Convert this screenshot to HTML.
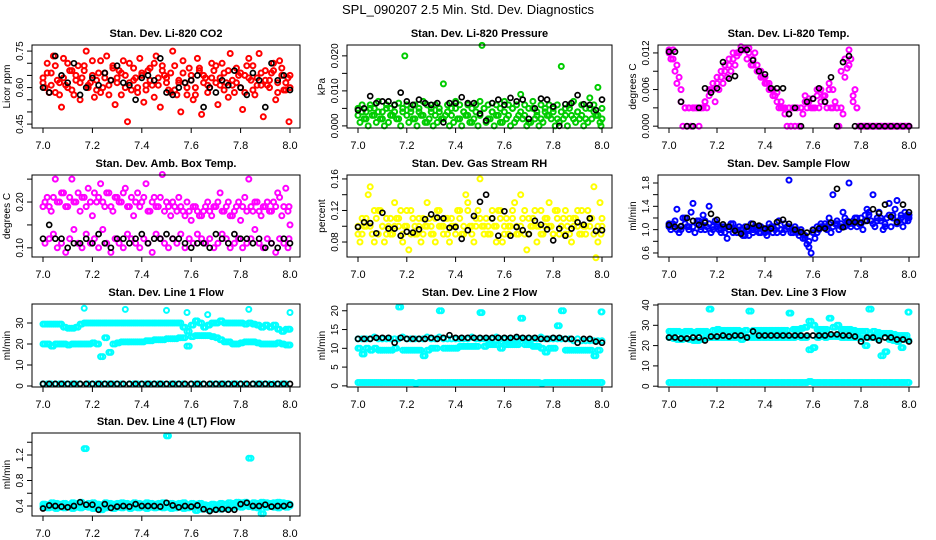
<!DOCTYPE html>
<html><head><meta charset="utf-8"><style>
html,body{margin:0;padding:0;background:#fff;width:936px;height:540px;overflow:hidden}
svg{display:block;font-family:"Liberation Sans",Arial,sans-serif}
</style></head><body>
<svg id="chart" width="936" height="540" viewBox="0 0 936 540" xmlns="http://www.w3.org/2000/svg">
<text x="468" y="14" text-anchor="middle" font-size="13">SPL_090207  2.5 Min. Std. Dev. Diagnostics</text>
</svg>
<script>
const times61=[7.000,7.017,7.033,7.050,7.067,7.083,7.100,7.117,7.133,7.150,7.167,7.183,7.200,7.217,7.233,7.250,7.267,7.283,7.300,7.317,7.333,7.350,7.367,7.383,7.400,7.417,7.433,7.450,7.467,7.483,7.500,7.517,7.533,7.550,7.567,7.583,7.600,7.617,7.633,7.650,7.667,7.683,7.700,7.717,7.733,7.750,7.767,7.783,7.800,7.817,7.833,7.850,7.867,7.883,7.900,7.917,7.933,7.950,7.967,7.983,8.000];
const times41=[7.000,7.025,7.050,7.075,7.100,7.125,7.150,7.175,7.200,7.225,7.250,7.275,7.300,7.325,7.350,7.375,7.400,7.425,7.450,7.475,7.500,7.525,7.550,7.575,7.600,7.625,7.650,7.675,7.700,7.725,7.750,7.775,7.800,7.825,7.850,7.875,7.900,7.925,7.950,7.975,8.000];
const timesOff=[7.008,7.025,7.042,7.058,7.075,7.092,7.108,7.125,7.142,7.158,7.175,7.192,7.208,7.225,7.242,7.258,7.275,7.292,7.308,7.325,7.342,7.358,7.375,7.392,7.408,7.425,7.442,7.458,7.475,7.492,7.508,7.525,7.542,7.558,7.575,7.592,7.608,7.625,7.642,7.658,7.675,7.692,7.708,7.725,7.742,7.758,7.775,7.792,7.808,7.825,7.842,7.858,7.875,7.892,7.908,7.925,7.942,7.958,7.975,7.992,7.996];
const xTicks=[7.0,7.2,7.4,7.6,7.8,8.0];
const xTickLabels=["7.0","7.2","7.4","7.6","7.8","8.0"];

const co2Red1=[.64,.70,.66,.58,.62,.72,.60,.67,.63,.55,.69,.61,.65,.59,.71,.64,.57,.68,.62,.66,.60,.70,.63,.58,.65,.61,.68,.56,.64,.69,.62,.66,.59,.63,.71,.57,.65,.60,.67,.62,.58,.64,.69,.61,.66,.56,.63,.68,.60,.65,.72,.59,.64,.61,.67,.63,.70,.58,.65,.62,.60];
const co2Red2=[.60,.58,.73,.63,.52,.61,.67,.57,.69,.64,.75,.62,.56,.66,.60,.73,.63,.53,.67,.71,.46,.59,.64,.72,.54,.67,.61,.73,.52,.65,.59,.75,.57,.50,.62,.68,.55,.72,.49,.64,.60,.67,.53,.70,.62,.74,.58,.65,.51,.69,.63,.57,.74,.48,.61,.66,.55,.71,.59,.64,.46];
const co2Red3=[.62,.66,.61,.69,.57,.64,.70,.59,.65,.62,.67,.60,.71,.63,.58,.66,.61,.69,.64,.57,.65,.62,.68,.60,.66,.59,.63,.70,.61,.67,.64,.58,.69,.62,.66,.60,.63,.57,.68,.65,.61,.70,.62,.64,.59,.67,.61,.62,.66,.58,.64,.69,.61,.66,.63,.60,.67,.62,.68,.59,.65];
const co2Black=[.60,.58,.73,.65,.62,.70,.57,.60,.64,.61,.66,.63,.69,.62,.61,.55,.64,.65,.63,.72,.58,.57,.60,.62,.63,.65,.52,.60,.58,.63,.61,.67,.60,.57,.66,.63,.52,.70,.63,.65,.59];

const presGreen1=[.005,.006,.004,.006,.005,.007,.004,.006,.005,.006,.0065,.005,.006,.004,.006,.005,.007,.006,.005,.006,.004,.012,.006,.005,.007,.006,.004,.006,.005,.006,.007,.005,.006,.004,.006,.005,.007,.006,.005,.006,.009,.006,.005,.007,.004,.006,.005,.006,.004,.006,.017,.005,.006,.007,.004,.006,.005,.008,.006,.011,.005];
const presGreen2=[.001,.002,.000,.003,.001,.002,.000,.001,.003,.002,.000,.020,.001,.002,.000,.003,.001,.002,.000,.001,.002,.003,.000,.001,.002,.000,.003,.001,.002,.000,.023,.001,.002,.000,.003,.001,.002,.000,.001,.003,.002,.000,.001,.002,.000,.001,.003,.002,.000,.001,.002,.000,.003,.001,.002,.000,.001,.002,.003,.001,.000];
const presGreen3=[.003,.004,.002,.005,.003,.004,.002,.005,.003,.004,.002,.004,.003,.005,.002,.004,.003,.001,.004,.003,.005,.002,.004,.003,.005,.002,.004,.003,.001,.004,.003,.005,.002,.004,.003,.001,.004,.003,.005,.002,.004,.003,.001,.005,.003,.002,.004,.003,.005,.002,.004,.003,.005,.002,.004,.003,.002,.005,.004,.003,.002];
const presBlack=[.0045,.005,.0085,.0065,.007,.007,.006,.0095,.007,.006,.0075,.0065,.006,.0065,.001,.0065,.0065,.0082,.0065,.0065,.0035,.0015,.0065,.0075,.006,.008,.007,.0075,.002,.005,.0078,.0075,.0055,.0000,.0062,.0065,.0088,.0062,.006,.0045,.0075];

const tempMag1=[.012,.0125,.010,.006,.003,.003,.003,.003,.003,.004,.005,.006,.008,.009,.010,.010,.011,.0115,.0125,.0128,.0128,.011,.010,.009,.008,.007,.006,.0055,.004,.002,.003,.003,.003,.003,.004,.0045,.0045,.006,.004,.005,.007,.006,.003,.003,.008,.0125,.005,.003,.000,.000,.000,.000,.000,.000,.000,.000,.000,.000,.000,.000,.000];
const tempMag2=[.011,.009,.008,.000,.000,.000,.003,.000,.003,.003,.006,.004,.006,.007,.008,.009,.010,.012,.0125,.011,.010,.012,.009,.008,.007,.006,.005,.003,.003,.000,.000,.000,.000,.002,.003,.003,.003,.003,.005,.003,.003,.004,.000,.002,.0095,.011,.006,.000,.000,.000,.000,.000,.000,.000,.000,.000,.000,.000,.000,.000,.000];
const tempMag3=[.0125,.011,.007,.004,.003,.003,.003,.003,.003,.004,.006,.007,.007,.008,.009,.011,.012,.012,.013,.0125,.012,.010,.009,.008,.007,.006,.005,.004,.003,.003,.002,.003,.003,.003,.005,.004,.003,.005,.006,.004,.006,.003,.003,.009,.011,.010,.004,.003,.000,.000,.000,.000,.000,.000,.000,.000,.000,.000,.000,.000,.000];
const tempBlack=[.0122,.0122,.004,.000,.000,.003,.0062,.0055,.0062,.0105,.0078,.0082,.0125,.0125,.0108,.009,.0085,.0062,.0062,.0062,.002,.003,.000,.004,.0045,.0062,.004,.008,.000,.0105,.0115,.000,.000,.000,.000,.000,.000,.000,.000,.000,.000];

const boxMag1=[.19,.21,.18,.25,.20,.22,.19,.25,.20,.18,.21,.23,.17,.20,.24,.19,.22,.18,.21,.20,.23,.19,.17,.22,.20,.24,.18,.21,.19,.26,.20,.17,.19,.21,.18,.20,.16,.19,.17,.18,.20,.17,.19,.22,.18,.20,.17,.19,.16,.21,.25,.18,.20,.17,.19,.18,.20,.22,.17,.23,.15];
const boxMag2=[.11,.12,.13,.10,.11,.09,.12,.14,.11,.10,.13,.11,.12,.10,.14,.11,.09,.12,.11,.10,.13,.12,.11,.10,.12,.11,.09,.13,.12,.11,.10,.12,.11,.13,.10,.12,.11,.13,.12,.11,.12,.10,.11,.13,.12,.10,.11,.12,.10,.11,.12,.14,.11,.10,.12,.11,.09,.12,.11,.10,.12];
const boxMag3=[.20,.19,.21,.20,.22,.19,.21,.20,.22,.21,.19,.20,.22,.21,.20,.22,.19,.21,.20,.22,.19,.21,.20,.19,.21,.18,.20,.19,.21,.18,.19,.20,.18,.19,.17,.18,.19,.18,.17,.19,.18,.19,.20,.18,.19,.17,.18,.20,.19,.18,.19,.20,.18,.19,.20,.18,.19,.21,.19,.18,.19];
const boxBlack=[.12,.15,.12,.12,.10,.11,.11,.12,.11,.13,.11,.10,.12,.12,.11,.12,.13,.11,.12,.12,.13,.12,.12,.11,.10,.11,.11,.10,.13,.12,.11,.13,.12,.12,.11,.12,.10,.11,.10,.12,.11];

const rhYel1=[.09,.11,.10,.15,.08,.12,.10,.09,.11,.13,.10,.08,.12,.09,.10,.11,.09,.13,.10,.08,.12,.10,.09,.11,.10,.12,.09,.13,.10,.11,.16,.09,.10,.12,.08,.11,.10,.09,.12,.10,.14,.09,.11,.10,.08,.12,.10,.13,.09,.11,.10,.12,.09,.11,.10,.12,.09,.10,.15,.08,.10];
const rhYel2=[.08,.10,.14,.09,.11,.12,.08,.10,.09,.11,.12,.10,.07,.11,.09,.08,.10,.11,.09,.12,.10,.11,.08,.10,.12,.09,.14,.10,.08,.12,.10,.11,.09,.10,.12,.08,.11,.10,.13,.09,.11,.07,.10,.12,.10,.09,.11,.10,.12,.09,.11,.10,.08,.11,.09,.10,.12,.11,.06,.13,.09];
const rhYel3=[.10,.09,.11,.10,.12,.09,.10,.11,.09,.10,.11,.09,.10,.12,.09,.10,.11,.10,.09,.11,.10,.09,.11,.10,.09,.11,.10,.12,.09,.10,.11,.10,.09,.11,.10,.12,.09,.10,.11,.09,.10,.12,.09,.11,.10,.09,.11,.10,.09,.12,.10,.09,.11,.10,.12,.09,.10,.11,.09,.10,.11];
const rhBlack=[.099,.105,.104,.091,.117,.097,.097,.088,.093,.092,.096,.109,.115,.111,.110,.098,.099,.084,.095,.113,.131,.140,.110,.088,.119,.088,.099,.095,.090,.107,.102,.096,.082,.097,.088,.097,.105,.102,.110,.094,.095];

const flowBlue1=[1.10,1.05,1.35,1.00,1.20,1.05,1.45,1.10,1.00,1.15,1.40,1.05,1.10,0.95,1.05,1.00,1.10,0.95,1.00,1.05,0.90,1.00,1.05,0.95,1.00,1.10,0.95,1.05,1.00,1.10,1.85,1.00,0.95,1.00,0.90,0.70,1.00,0.95,1.05,1.10,1.20,1.60,1.10,1.05,1.20,1.80,1.10,1.20,1.10,1.25,1.30,1.60,1.20,1.15,1.05,1.45,1.25,1.50,1.20,1.30,1.25];
const flowBlue2=[1.00,1.15,0.95,1.20,1.05,1.30,0.95,1.15,1.25,1.05,0.95,1.15,1.00,1.05,0.85,1.10,1.00,1.05,0.90,1.00,1.10,1.05,0.95,1.00,0.90,1.05,1.00,1.15,0.95,1.05,0.95,1.05,0.90,0.85,0.75,0.60,0.85,1.00,1.05,1.00,0.95,1.10,1.00,1.30,1.15,1.05,1.20,1.10,1.00,1.35,1.15,1.05,1.30,1.00,1.20,1.05,1.35,1.15,1.05,1.25,1.15];
const flowBlue3=[1.05,1.10,1.00,1.05,1.10,1.00,1.05,1.15,1.05,1.00,1.10,1.00,1.05,1.00,0.95,1.05,0.95,1.00,0.95,0.90,1.00,0.95,1.00,1.05,0.95,1.00,1.05,0.95,1.00,1.00,1.05,0.95,1.00,0.95,0.85,0.80,0.95,1.05,1.10,1.05,1.10,1.05,1.15,1.10,1.05,1.10,1.15,1.05,1.20,1.15,1.25,1.10,1.15,1.20,1.10,1.25,1.20,1.10,1.25,1.15,1.20];
const flowBlack=[1.08,1.05,1.06,1.20,1.15,1.08,1.12,1.27,1.17,1.09,1.05,0.98,0.93,1.05,1.10,1.07,1.02,1.02,1.13,1.17,1.10,1.00,0.96,0.95,0.99,1.02,1.02,1.12,1.70,1.04,1.13,1.13,1.12,1.15,1.35,1.28,1.43,1.22,1.13,1.43,1.30];

const l1CyanA=[29.5,29.5,29.5,29.5,29.5,28,27.5,27.5,28,29.5,30,30,30,30,30,30,30,30,30,30,30,30,30,30,30,30,30,30,30,30,30,30,30,30,28,26,29,31,30,28,29,30,30,31,30,30,30,30,30,29.5,30,29.5,29,28,29,28,29,27,26,27,27];
const l1CyanB=[20,20,19,20,20,20,19.5,20,20,20,20,20,20.5,20,14,23,16,20,20.5,21,21,21,21,21,21,21.5,21.5,22,22,22,22.5,22.5,22.5,23,23,19,23.5,24,24,24,24,23.5,23,22,21,21,20,20,20.5,21,21,21,20.5,20,20,20,20,20.5,20,19.5,19.5];
const l1CyanC=[1,1,1,1,1,1,1,1,1,1,37,1,1,1,1,1,1,1,1,1,36.5,1,1,1,1,1,1,1,1,1,36,1,1,1,1,35,1,1,1,1,34,1,1,1,1,1,1,1,1,1,36.5,1,1,1,1,1,1,1,1,1,35];
const l1Black=[1,1,1,1,1,1,1,1,1,1,1,1,1,1,1,1,1,1,1,1,1,1,1,1,1,1,1,1,1,1,1,1,1,1,1,1,1,0.8,1,1,1];

const l2CyanA=[12.5,12.5,12.5,12.5,13,12.5,12.5,12.5,12.5,12.5,12.5,13,12.5,12.5,12.5,12.5,12.5,13,12.5,12.5,13,12.5,12.5,12.5,12.5,12.5,12.5,12.5,13,12.5,12.5,12.5,12.5,12.5,13,12.5,12.5,12.5,12.5,12.5,12.5,12.5,12.5,12.5,12.5,13,12.5,12.5,12.5,12.5,12.5,12.5,12.5,12,12.5,12,12,12,12,12,12];
const l2CyanB=[10,8.5,10,9.5,10,9.5,9.5,9.5,9.5,10,21,9.5,9.5,9.5,9.5,9.5,8,9.5,10,10,20,10,10,10,10,10.5,10.5,10.5,10.5,10.5,19.5,10.5,11,11,11,10,11,11,11,11,18,11,11,10.5,10.5,10,9,10,10,16,20,9.5,9.5,9.5,9.5,9.5,9.5,9.5,8,9.5,19.7];
const l2CyanC=[0.9,0.9,0.9,0.9,0.9,0.9,0.9,0.9,0.9,0.9,0.9,0.9,0.9,0.9,0.7,0.9,0.9,0.9,0.9,0.9,0.9,0.9,0.9,0.9,0.9,0.9,0.9,0.9,0.9,0.9,0.9,0.9,0.9,0.9,0.9,0.9,0.9,0.9,0.9,0.9,0.9,0.9,0.9,0.9,0.9,0.7,0.9,0.9,0.9,0.9,0.9,0.9,0.9,0.9,0.9,0.9,0.9,0.9,0.9,0.9,0.9];
const l2Black=[12.5,12.5,12.5,12.8,12.8,12.8,11.5,12.8,12.5,12.5,12.5,12.5,12.8,12.5,12.8,13.5,12.8,12.8,12.8,12.8,12.8,12.8,12.8,12.8,12.8,12.8,13,12.8,12.8,12.8,12.5,12.5,12.8,12.8,12.5,12.5,11.5,12.5,12.5,11.8,11.5];

const l3CyanA=[27,27,27,26.5,27,27,26.5,27,27,27,38,27.5,28,27.5,27.5,27.5,27.5,27.5,27,27.5,37,27.5,27.5,27.5,27.5,27.5,27.5,27.5,27.5,27.5,36,28,28,28.5,29,32,30,28,28,28,33.5,29,30,28,28,28,27.5,27,27,27,38,27,26.5,26,26,26,25.5,25,25,25,36.5];
const l3CyanB=[24,23.5,23,23,23.5,23,22.5,22.5,23,24,24,24,24,24,24,24,24,24,23,24,24,24,24,24,24,24,24,24,24,24,24,24,24.5,24,24,18,19,24,24.5,24,24.5,24.5,24.5,24,24,24,24,24,23.5,20,24,24,23.5,15,17,23,22.5,22,19,23,22.5];
const l3CyanC=[1.8,1.8,1.8,1.8,1.8,1.8,1.8,1.8,1.8,1.8,1.8,1.8,1.8,1.8,1.8,1.8,1.8,1.8,1.8,1.8,1.8,1.8,1.8,1.8,1.8,1.8,1.8,1.8,1.8,1.8,1.8,1.8,1.8,1.8,1.8,2.3,1.8,1.8,1.8,1.8,1.8,1.8,1.8,1.8,1.8,1.8,1.8,1.8,1.8,1.8,1.8,1.8,1.8,1.8,1.8,1.8,1.8,1.8,1.8,1.8,1.8];
const l3Black=[24,24,23.5,23.5,24,24,22.5,24.5,24.5,25,24.5,25,25,24,27,25,25,25,25,25,25,25,25,25,25,25,25,25.5,25.5,25,25,24.5,22,24,24,22.5,24,24,23,23,22];

const l4CyanA=[0.43,0.42,0.45,0.44,0.43,0.44,0.42,0.45,0.44,0.46,1.30,0.44,0.45,0.43,0.42,0.45,0.44,0.43,0.44,0.45,0.44,0.43,0.45,0.44,0.43,0.45,0.44,0.43,0.44,0.45,1.50,0.44,0.43,0.44,0.45,0.42,0.44,0.43,0.44,0.42,0.41,0.43,0.42,0.44,0.43,0.45,0.44,0.46,0.45,0.46,1.15,0.45,0.44,0.46,0.45,0.44,0.45,0.46,0.45,0.44,0.43];
const l4CyanB=[0.39,0.37,0.38,0.36,0.38,0.37,0.39,0.36,0.38,0.37,0.39,0.38,0.36,0.38,0.34,0.37,0.38,0.36,0.38,0.37,0.39,0.36,0.38,0.37,0.38,0.36,0.38,0.37,0.38,0.37,0.38,0.36,0.37,0.38,0.36,0.37,0.38,0.33,0.35,0.36,0.34,0.35,0.36,0.35,0.36,0.37,0.38,0.39,0.38,0.40,0.39,0.38,0.37,0.28,0.38,0.39,0.38,0.37,0.39,0.38,0.40];
const l4Black=[0.36,0.41,0.40,0.39,0.38,0.40,0.46,0.42,0.42,0.34,0.43,0.37,0.39,0.40,0.39,0.43,0.40,0.40,0.40,0.39,0.45,0.41,0.38,0.40,0.39,0.41,0.35,0.32,0.34,0.35,0.34,0.34,0.43,0.45,0.40,0.40,0.42,0.39,0.40,0.40,0.42];

const panels=[
 {name:"co2",title:"Stan. Dev. Li-820 CO2",ylab:"Licor ppm",col:0,row:0,yTop:.775,yBot:.434,ticks:[.45,.5,.55,.6,.65,.7,.75],labelVals:[.45,.6,.75],labels:["0.45","0.60","0.75"],series:[[co2Red1,times61,"#ff0000"],[co2Red2,timesOff,"#ff0000"],[co2Red3,times61,"#ff0000"],[co2Black,times41,"#000"]]},
 {name:"pressure",title:"Stan. Dev. Li-820 Pressure",ylab:"kPa",col:1,row:0,yTop:.0231,yBot:-.0006,ticks:[0,.005,.01,.015,.02],labelVals:[0,.01,.02],labels:["0.000","0.010","0.020"],series:[[presGreen1,times61,"#00cc00"],[presGreen2,timesOff,"#00cc00"],[presGreen3,times61,"#00cc00"],[presBlack,times41,"#000"]]},
 {name:"licor-temp",title:"Stan. Dev. Li-820 Temp.",ylab:"degrees C",col:2,row:0,yTop:.0133,yBot:-.0003,ticks:[0,.003,.006,.009,.012],labelVals:[0,.006,.012],labels:["0.000","0.006","0.012"],series:[[tempMag1,times61,"#ff00ff"],[tempMag2,timesOff,"#ff00ff"],[tempMag3,times61,"#ff00ff"],[tempBlack,times41,"#000"]]},
 {name:"box-temp",title:"Stan. Dev. Amb. Box Temp.",ylab:"degrees C",col:0,row:1,yTop:.259,yBot:.080,ticks:[.10,.15,.20,.25],labelVals:[.10,.20],labels:["0.10","0.20"],series:[[boxMag1,times61,"#ff00ff"],[boxMag2,timesOff,"#ff00ff"],[boxMag3,timesOff,"#ff00ff"],[boxBlack,times41,"#000"]]},
 {name:"rh",title:"Stan. Dev. Gas Stream RH",ylab:"percent",col:1,row:1,yTop:.165,yBot:.061,ticks:[.08,.10,.12,.14,.16],labelVals:[.08,.12,.16],labels:["0.08","0.12","0.16"],series:[[rhYel1,times61,"#ffff00"],[rhYel2,timesOff,"#ffff00"],[rhYel3,times61,"#ffff00"],[rhBlack,times41,"#000"]]},
 {name:"sample-flow",title:"Stan. Dev. Sample Flow",ylab:"ml/min",col:2,row:1,yTop:1.937,yBot:.531,ticks:[.6,.8,1.0,1.2,1.4,1.6,1.8],labelVals:[.6,1.0,1.4,1.8],labels:["0.6","1.0","1.4","1.8"],series:[[flowBlue1,times61,"#0000ff"],[flowBlue2,timesOff,"#0000ff"],[flowBlue3,times61,"#0000ff"],[flowBlack,times41,"#000"]]},
 {name:"line1",title:"Stan. Dev. Line 1 Flow",ylab:"ml/min",col:0,row:2,yTop:39.05,yBot:-.48,ticks:[0,10,20,30],labelVals:[0,10,20,30],labels:["0","10","20","30"],series:[[l1CyanA,times61,"#00ffff"],[l1CyanA,timesOff,"#00ffff"],[l1CyanB,times61,"#00ffff"],[l1CyanB,timesOff,"#00ffff"],[l1CyanC,times61,"#00ffff"],[l1Black,times41,"#000"]]},
 {name:"line2",title:"Stan. Dev. Line 2 Flow",ylab:"ml/min",col:1,row:2,yTop:21.8,yBot:-.3,ticks:[0,5,10,15,20],labelVals:[0,5,10,15,20],labels:["0","5","10","15","20"],series:[[l2CyanA,times61,"#00ffff"],[l2CyanB,times61,"#00ffff"],[l2CyanB,timesOff,"#00ffff"],[l2CyanC,times61,"#00ffff"],[l2CyanC,timesOff,"#00ffff"],[l2Black,times41,"#000"]]},
 {name:"line3",title:"Stan. Dev. Line 3 Flow",ylab:"ml/min",col:2,row:2,yTop:40.5,yBot:-.4,ticks:[0,10,20,30,40],labelVals:[0,10,20,30,40],labels:["0","10","20","30","40"],series:[[l3CyanA,times61,"#00ffff"],[l3CyanA,timesOff,"#00ffff"],[l3CyanB,times61,"#00ffff"],[l3CyanB,timesOff,"#00ffff"],[l3CyanC,times61,"#00ffff"],[l3CyanC,timesOff,"#00ffff"],[l3Black,times41,"#000"]]},
 {name:"line4",title:"Stan. Dev. Line 4 (LT) Flow",ylab:"ml/min",col:0,row:3,yTop:1.545,yBot:.243,ticks:[.4,.6,.8,1.0,1.2,1.4],labelVals:[.4,.8,1.2],labels:["0.4","0.8","1.2"],series:[[l4CyanA,times61,"#00ffff"],[l4CyanA,timesOff,"#00ffff"],[l4CyanB,times61,"#00ffff"],[l4CyanB,timesOff,"#00ffff"],[l4Black,times41,"#000"]]}
];

const NS="http://www.w3.org/2000/svg";
const svg=document.getElementById("chart");
const colL=[32,347,658], colR=[300,612,919];
const rowT=[45,175,304,433], rowB=[128,257,387,516];
function mk(tag,attrs,parent){const e=document.createElementNS(NS,tag);for(const k in attrs)e.setAttribute(k,attrs[k]);(parent||svg).appendChild(e);return e;}

panels.forEach(p=>{
  const L=colL[p.col],R=colR[p.col],T=rowT[p.row],B=rowB[p.row];
  const x0=L+11,x1=R-10;
  const sx=v=>x0+(v-7)*(x1-x0);
  const sy=v=>T+(p.yTop-v)/(p.yTop-p.yBot)*(B-T);
  const g=mk("g",{});
  
  
  const t=mk("text",{x:(L+R)/2,y:T-8,"text-anchor":"middle","font-size":"11","font-weight":"bold"},g);
  t.textContent=p.title;
  
  
  const pts=mk("g",{fill:"none"},g);
  
  
  p.series.forEach(s=>{
    const vals=s[0],ts=s[1],n=Math.min(vals.length,ts.length);
    const black=s[2]==="#000";
    for(let i=0;i<n;i++){
      const c=mk("circle",{cx:sx(ts[i]).toFixed(1),cy:sy(vals[i]).toFixed(1),r:"2.5",stroke:s[2],"stroke-width":black?"1.7":"2"},pts);
      
      
    }
  });
  const box=mk("rect",{x:L,y:T,width:R-L,height:B-T,fill:"none",stroke:"#000","stroke-width":"1"},g);
  
  
  const xa=mk("g",{stroke:"#000","stroke-width":"1"},g);
  
  
  mk("line",{x1:sx(xTicks[0]),x2:sx(xTicks[xTicks.length-1]),y1:B,y2:B},xa);
  xTicks.forEach((v,i)=>{
    mk("line",{x1:sx(v),x2:sx(v),y1:B,y2:B+5},xa);
    const tl=mk("text",{x:sx(v),y:B+21,"text-anchor":"middle","font-size":"11",stroke:"none"},xa);
    tl.textContent=xTickLabels[i];
    
    
  });
  const ya=mk("g",{stroke:"#000","stroke-width":"1"},g);
  
  
  mk("line",{x1:L,x2:L,y1:sy(p.ticks[0]),y2:sy(p.ticks[p.ticks.length-1])},ya);
  p.ticks.forEach(v=>{mk("line",{x1:L-5,x2:L,y1:sy(v),y2:sy(v)},ya);});
  p.labelVals.forEach((v,i)=>{
    const yy=sy(v);
    const tl=mk("text",{x:L-9,y:yy,"text-anchor":"middle","font-size":"10",stroke:"none",transform:`rotate(-90 ${L-9} ${yy})`},ya);
    tl.textContent=p.labels[i];
    
    
  });
  const yl=mk("text",{x:L-22,y:(T+B)/2,"text-anchor":"middle","font-size":"10",transform:`rotate(-90 ${L-22} ${(T+B)/2})`},g);
  yl.textContent=p.ylab;
  
  
});
</script>
</body></html>
